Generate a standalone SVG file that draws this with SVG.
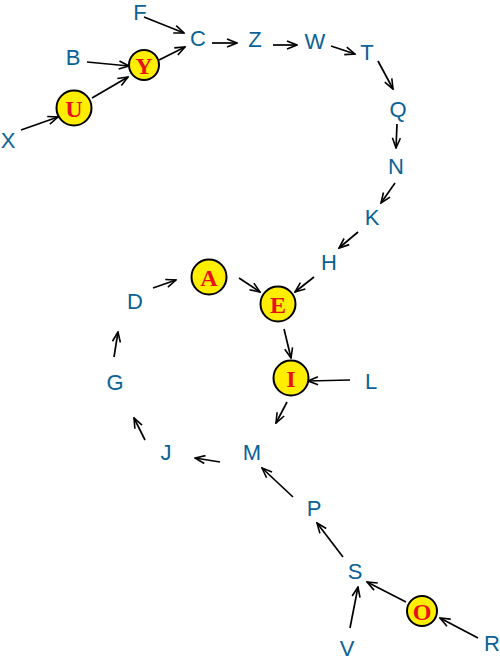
<svg xmlns="http://www.w3.org/2000/svg" width="500" height="660" viewBox="0 0 500 660">
<defs>
<marker id="ah" viewBox="0 0 12 10" refX="11" refY="5" markerWidth="12" markerHeight="10" markerUnits="userSpaceOnUse" orient="auto">
<path d="M1,1 L11,5 L1,9" fill="none" stroke="#000" stroke-width="1.6"/>
</marker>
</defs>
<style>
.lbl{font-family:"Liberation Sans",Arial,sans-serif;font-size:22px;fill:#0a6296;text-anchor:middle;dominant-baseline:central}
.cir{fill:#ffee00;stroke:#000;stroke-width:2}
.cl{font-family:"Liberation Serif","Times New Roman",serif;font-size:24px;font-weight:bold;fill:#e8101a;text-anchor:middle;dominant-baseline:central}
.e{stroke:#000;stroke-width:1.7;fill:none;marker-end:url(#ah)}
</style>
<rect width="500" height="660" fill="#fff"/>
<g id="connectors">
<line class="e" x1="144" y1="17" x2="184" y2="33"/>
<line class="e" x1="87" y1="62" x2="129" y2="66"/>
<line class="e" x1="21" y1="130" x2="58" y2="117"/>
<line class="e" x1="92" y1="98" x2="128" y2="77"/>
<line class="e" x1="159" y1="60" x2="185" y2="47"/>
<line class="e" x1="212" y1="43" x2="237" y2="43"/>
<line class="e" x1="273" y1="45" x2="297" y2="45"/>
<line class="e" x1="331" y1="46" x2="355" y2="54"/>
<line class="e" x1="378" y1="61" x2="393" y2="89"/>
<line class="e" x1="397" y1="124" x2="396" y2="148"/>
<line class="e" x1="395" y1="183" x2="381" y2="203"/>
<line class="e" x1="358" y1="232" x2="339" y2="248"/>
<line class="e" x1="314" y1="277" x2="295" y2="292"/>
<line class="e" x1="153" y1="288" x2="176" y2="280"/>
<line class="e" x1="239" y1="278" x2="260" y2="292"/>
<line class="e" x1="284" y1="329" x2="291" y2="358"/>
<line class="e" x1="350" y1="380" x2="308" y2="381"/>
<line class="e" x1="287" y1="402" x2="276" y2="423"/>
<line class="e" x1="114" y1="357" x2="118" y2="332"/>
<line class="e" x1="145" y1="440" x2="134" y2="418"/>
<line class="e" x1="220" y1="462" x2="195" y2="458"/>
<line class="e" x1="293" y1="497" x2="262" y2="468"/>
<line class="e" x1="343" y1="557" x2="317" y2="523"/>
<line class="e" x1="406" y1="602" x2="367" y2="582"/>
<line class="e" x1="478" y1="638" x2="440" y2="618"/>
<line class="e" x1="350" y1="628" x2="358" y2="587"/>
</g>
<g id="F"><text class="lbl" x="140" y="12">F</text></g>
<g id="C"><text class="lbl" x="198" y="38">C</text></g>
<g id="Z"><text class="lbl" x="255" y="39">Z</text></g>
<g id="W"><text class="lbl" x="315" y="41">W</text></g>
<g id="T"><text class="lbl" x="367" y="52">T</text></g>
<g id="Q"><text class="lbl" x="398" y="109">Q</text></g>
<g id="N"><text class="lbl" x="396" y="166">N</text></g>
<g id="K"><text class="lbl" x="372" y="217">K</text></g>
<g id="H"><text class="lbl" x="329" y="262">H</text></g>
<g id="B"><text class="lbl" x="73" y="57">B</text></g>
<g id="X"><text class="lbl" x="8" y="140">X</text></g>
<g id="D"><text class="lbl" x="135" y="301">D</text></g>
<g id="G"><text class="lbl" x="115" y="382">G</text></g>
<g id="J"><text class="lbl" x="166" y="452">J</text></g>
<g id="M"><text class="lbl" x="252" y="452">M</text></g>
<g id="L"><text class="lbl" x="371" y="381">L</text></g>
<g id="P"><text class="lbl" x="314" y="508">P</text></g>
<g id="S"><text class="lbl" x="355" y="571">S</text></g>
<g id="R"><text class="lbl" x="492" y="643">R</text></g>
<g id="V"><text class="lbl" x="347" y="648">V</text></g>
<g id="Y"><circle class="cir" cx="144" cy="65" r="15"/><text class="cl" x="144" y="66">Y</text></g>
<g id="U"><circle class="cir" cx="74" cy="108" r="17.5"/><text class="cl" x="74" y="109">U</text></g>
<g id="A"><circle class="cir" cx="209" cy="277" r="17.5"/><text class="cl" x="209" y="278">A</text></g>
<g id="E"><circle class="cir" cx="278" cy="304" r="17.5"/><text class="cl" x="278" y="305">E</text></g>
<g id="I"><circle class="cir" cx="291" cy="378" r="17.5"/><text class="cl" x="291" y="379">I</text></g>
<g id="O"><circle class="cir" cx="422" cy="611" r="15"/><text class="cl" x="422" y="612">O</text></g>
</svg>
